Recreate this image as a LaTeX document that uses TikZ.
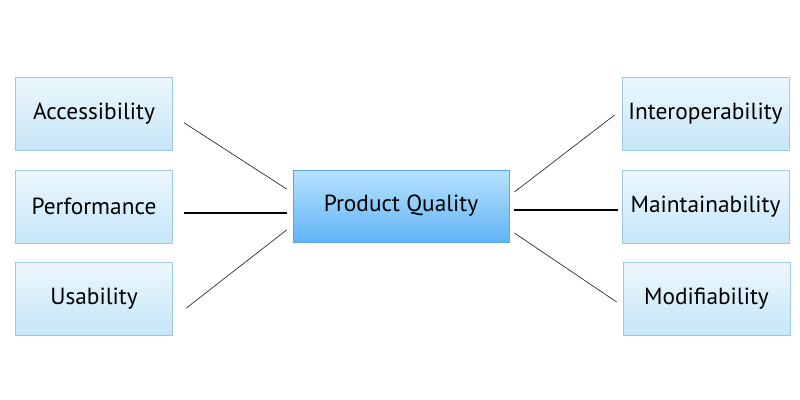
\documentclass[tikz,border=0pt]{standalone}
\usepackage{fontspec}
\setmainfont{PT Sans}
\usepackage{tikz}
\usetikzlibrary{positioning,calc}
\definecolor{sidetop}{RGB}{236,247,253}
\definecolor{sidebot}{RGB}{198,230,248}
\definecolor{sideline}{RGB}{160,202,228}
\definecolor{midtop}{RGB}{182,226,253}
\definecolor{midbot}{RGB}{98,180,246}
\definecolor{midline}{RGB}{88,166,230}
\tikzset{
  side/.style={draw=sideline, line width=0.6pt, top color=sidetop, bottom color=sidebot,
    minimum height=54.75pt, inner sep=0pt, font=\fontsize{17.5}{20}\selectfont},
  mid/.style={draw=midline, line width=0.6pt, top color=midtop, bottom color=midbot,
    minimum width=162pt, minimum height=54pt, inner sep=0pt, font=\fontsize{17.5}{20}\selectfont},
  thin/.style={draw=black!85, line width=0.5pt},
  thick/.style={draw=black, line width=1.3pt}
}
\begin{document}
\begin{tikzpicture}[x=0.75pt,y=-0.75pt]
\useasboundingbox (0,0) rectangle (800,400);
\node (pq) at (401,206) [mid] {Product Quality};

\node (acc) at (94,113.5) [side, minimum width=117.75pt] {Accessibility};
\node (perf) at (94,206.5) [side, minimum width=117.75pt] {Performance};
\node (usab) at (94,299) [side, minimum width=117.75pt] {Usability};

\node (inter) at (705.5,114) [side, minimum width=125.25pt] {Interoperability};
\node (maint) at (705.5,206.5) [side, minimum width=125.25pt] {Maintainability};
\node (modif) at (706.5,299) [side, minimum width=125.25pt] {Modifiability};

\draw[thin] ([shift={(11.5,9.5)}]acc.east) -- ([shift={(-6,-17)}]pq.west);
\draw[thick] ([shift={(11,6.5)}]perf.east) -- ([shift={(-6,7)}]pq.west);
\draw[thin] ([shift={(13.5,9)}]usab.east) -- ([shift={(-6,24)}]pq.west);
\draw[thin] ([shift={(5,-14)}]pq.east) -- ([shift={(-7,1)}]inter.west);
\draw[thick] ([shift={(5,4)}]pq.east) -- ([shift={(-4,3.5)}]maint.west);
\draw[thin] ([shift={(5,27)}]pq.east) -- ([shift={(-6,3)}]modif.west);
\end{tikzpicture}
\end{document}
